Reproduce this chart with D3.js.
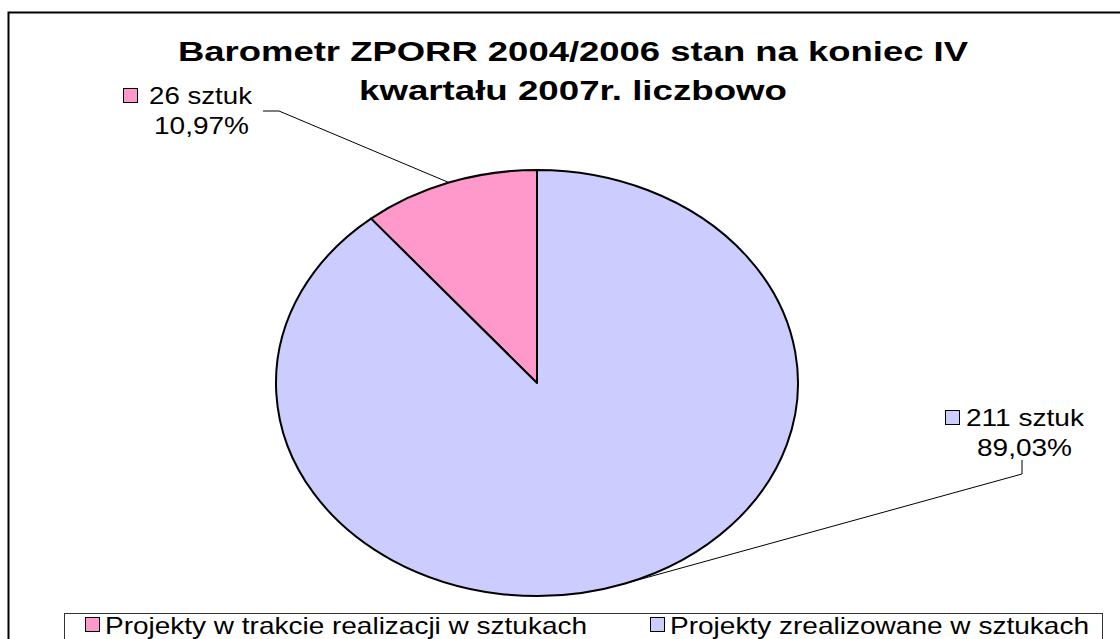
<!DOCTYPE html>
<html>
<head>
<meta charset="utf-8">
<script src="https://cdn.jsdelivr.net/npm/d3@7"></script>
<style>
  body { margin: 0; background: #fff; }
  svg { display: block; font-family: "Liberation Sans", Arial, sans-serif; }
</style>
</head>
<body>
<div id="chart"></div>
<script>
// data
var categories = ["Projekty w trakcie realizacji w sztukach", "Projekty zrealizowane w sztukach"];
var values = [26, 211];
var valueLabels = ["26 sztuk", "211 sztuk"];
var percentLabels = ["10,97%", "89,03%"];
var colors = ["#FF99CC", "#CCCCFF"];
var titleLines = ["Barometr ZPORR 2004/2006 stan na koniec IV", "kwartału 2007r. liczbowo"];

var width = 1120, height = 639;
var cx = 537, cy = 383, rx = 261, ry = 213;

var svg = d3.select("#chart")
  .append("svg")
  .attr("width", width)
  .attr("height", height);

// outer frame
svg.append("rect")
  .attr("x", 8.5).attr("y", 12.5)
  .attr("width", 1200).attr("height", 700)
  .attr("fill", "#fff")
  .attr("stroke", "#000")
  .attr("stroke-width", 2);

// title
var titleLayout = [{x: 178, y: 61, w: 790}, {x: 359, y: 100, w: 428}];
svg.selectAll(".title")
  .data(titleLines)
  .enter()
  .append("text")
  .attr("class", "title")
  .attr("x", (d, i) => titleLayout[i].x)
  .attr("y", (d, i) => titleLayout[i].y)
  .attr("textLength", (d, i) => titleLayout[i].w)
  .attr("lengthAdjust", "spacingAndGlyphs")
  .style("font-size", "28px")
  .style("font-weight", "bold")
  .text(d => d);

// pie, starting so the first slice ends at 12 o'clock
var total = d3.sum(values);
var offset = 2 * Math.PI * values[0] / total;
var pie = d3.pie().sort(null).startAngle(-offset).endAngle(2 * Math.PI - offset);
var arcs = pie(values);
var arc = d3.arc().innerRadius(0).outerRadius(rx);

var pieG = svg.append("g")
  .attr("transform", "translate(" + cx + "," + cy + ") scale(1," + (ry / rx) + ")");

pieG.selectAll("path")
  .data(arcs)
  .enter()
  .append("path")
  .attr("d", arc)
  .attr("fill", (d, i) => colors[i])
  .attr("stroke", "#000")
  .attr("stroke-width", 2)
  .attr("vector-effect", "non-scaling-stroke")
  .attr("stroke-linejoin", "round");

// edge point at the middle of each slice
function edgePoint(d) {
  var a = (d.startAngle + d.endAngle) / 2;
  return [cx + rx * Math.sin(a), cy - ry * Math.cos(a)];
}

// data labels
var labelLayout = [
  {sq: [123, 88], t1: [149, 104, 103], t2: [154, 134, 95], lead: [[263, 111], [279, 111]]},
  {sq: [945, 410], t1: [966, 426, 118], t2: [977, 456, 95], lead: [[1022, 460], [1022, 474]]}
];

arcs.forEach(function(d, i) {
  var L = labelLayout[i];
  var e = edgePoint(d);
  svg.append("polyline")
    .attr("points", L.lead.concat([e]).map(p => p.join(",")).join(" "))
    .attr("fill", "none")
    .attr("stroke", "#000")
    .attr("stroke-width", 1);

  svg.append("rect")
    .attr("x", L.sq[0] + 0.5).attr("y", L.sq[1] + 0.5)
    .attr("width", 14).attr("height", 14)
    .attr("fill", colors[i])
    .attr("stroke", "#000")
    .attr("stroke-width", 1);

  svg.append("text")
    .attr("x", L.t1[0]).attr("y", L.t1[1])
    .attr("textLength", L.t1[2])
    .attr("lengthAdjust", "spacingAndGlyphs")
    .style("font-size", "24px")
    .text(valueLabels[i]);

  svg.append("text")
    .attr("x", L.t2[0]).attr("y", L.t2[1])
    .attr("textLength", L.t2[2])
    .attr("lengthAdjust", "spacingAndGlyphs")
    .style("font-size", "24px")
    .text(percentLabels[i]);
});

// legend
svg.append("rect")
  .attr("x", 64.5).attr("y", 613.5)
  .attr("width", 1038).attr("height", 60)
  .attr("fill", "#fff")
  .attr("stroke", "#333")
  .attr("stroke-width", 1);

var legendLayout = [{sq: 85, tx: 105, w: 482}, {sq: 650, tx: 670, w: 419}];
var legend = svg.selectAll(".legend")
  .data(categories)
  .enter()
  .append("g")
  .attr("class", "legend");

legend.append("rect")
  .attr("x", (d, i) => legendLayout[i].sq + 0.5)
  .attr("y", 617.5)
  .attr("width", 14).attr("height", 14)
  .attr("fill", (d, i) => colors[i])
  .attr("stroke", "#000")
  .attr("stroke-width", 1);

legend.append("text")
  .attr("x", (d, i) => legendLayout[i].tx)
  .attr("y", 634)
  .attr("textLength", (d, i) => legendLayout[i].w)
  .attr("lengthAdjust", "spacingAndGlyphs")
  .style("font-size", "24px")
  .text(d => d);
</script>
</body>
</html>
